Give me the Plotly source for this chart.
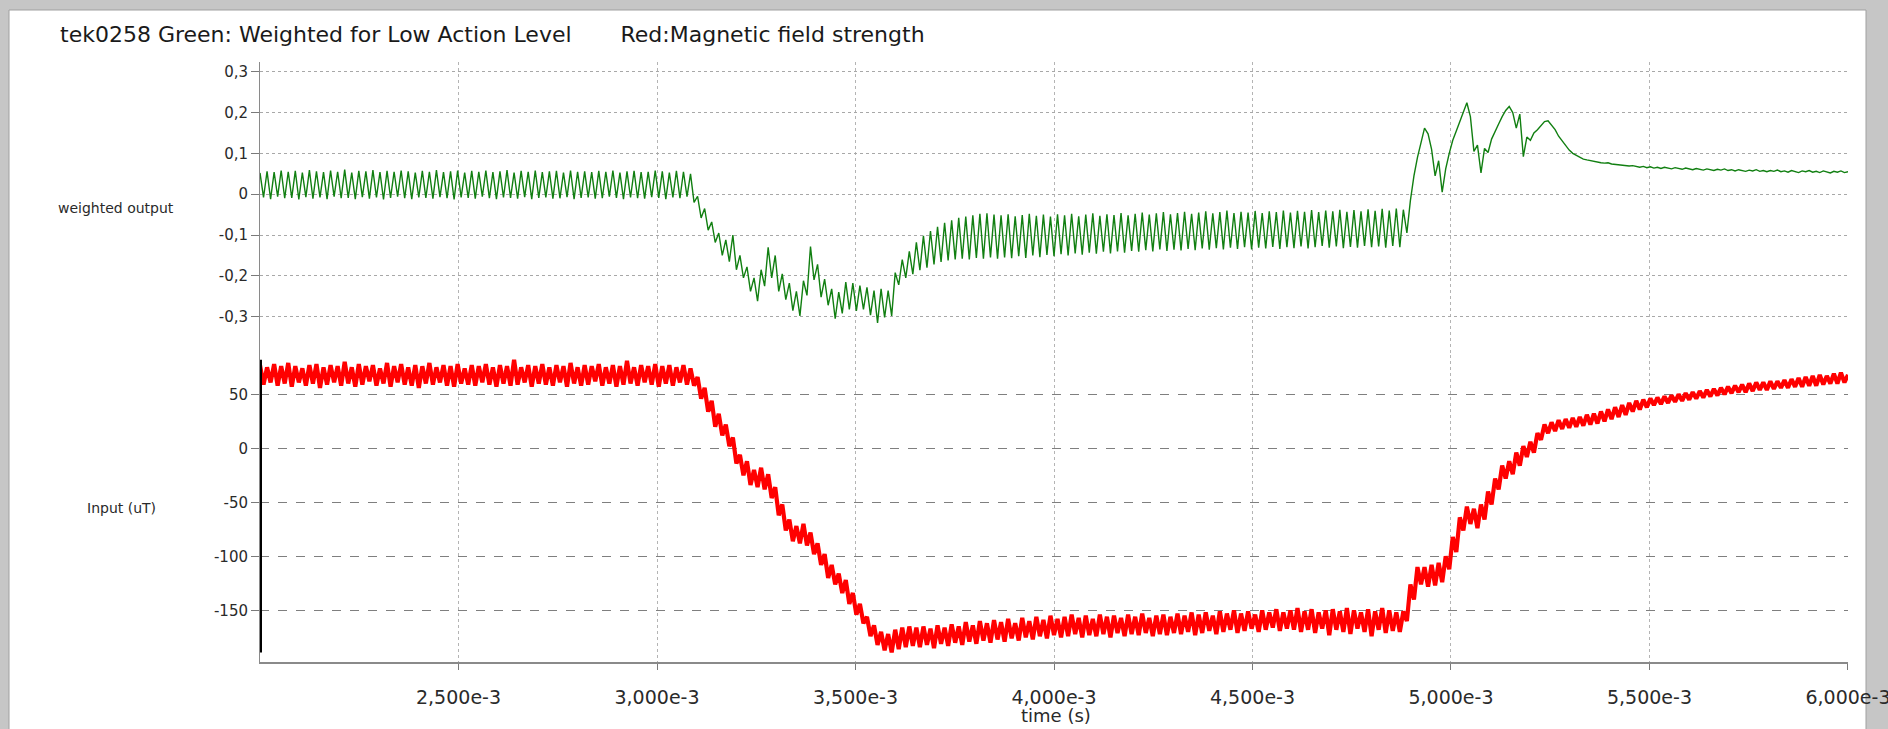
import numpy as np
import plotly.graph_objects as go

# ---------------- data ----------------
t_start_ms = 2.0
t_end_ms = 6.0

# green trace: weighted output (values x 1000)
green_flat = [52,-8,56,-12,54,-6,58,-10,55,-9,57,-13,53,-7,59,-11,56,-8,54,-12,
              58,-6,55,-10,60,-9,53,-12,57,-7,56,-11,59,-8,54,-13,57,-9,55,-6,
              58,-10,56,-12,53,-8,57,-9,55,-11,59,-7,54,-10,56,-13,58,-8,53,-9,
              57,-11,55,-6,58,-10,54,-12,56,-8,59,-9,53,-11,57,-7,55,-12,58,-9,
              54,-8,56,-11,57,-10,53,-7,58,-12,55,-9,56,-8,54,-11,57,-10,55,-6,
              58,-9,53,-12,56,-8,57,-10,54,-11,55,-7,58,-9,56,-12,53,-8,57,-10,
              55,-6]
green_dip = [50,-20,-5,-58,-35,-88,-68,-118,-95,-150,
             -112,-165,-100,-185,-150,-205,-178,-238,-205,-262,
             -185,-225,-130,-205,-150,-238,-195,-258,-218,-285,
             -238,-298,-212,-248,-128,-210,-172,-252,-208,-272,
             -232,-305,-240,-292,-215,-282,-218,-286,-224,-282,
             -228,-296,-236,-315,-232,-302,-236,-298,-192,-222,
             -160,-205,-140,-196,-118,-186,-102,-180,-90,-172,
             -80,-166,-70,-162,-64,-160,-58,-158,-55,-160,
             -52,-156,-48,-158,-47,-155]
green_mid = [-50,-158,-52,-155,-49,-157,-54,-152,-51,-156,-48,-150,-53,-154,-50,-149,-55,-152,-49,-147,
             -52,-150,-48,-145,-54,-148,-50,-143,-47,-146,-53,-141,-49,-145,-51,-140,-46,-143,-52,-139,
             -48,-141,-45,-137,-50,-140,-47,-135,-44,-139,-49,-136,-46,-138,-43,-134,-48,-137,-45,-133,
             -42,-136,-47,-132,-44,-135,-40,-131,-46,-134,-43,-130,-45,-135,-41,-131,-46,-133,-42,-129,
             -44,-134,-40,-130,-45,-132,-41,-128,-43,-133,-39,-130,-44,-127,-40,-131,-42,-128,-38,-132,
             -43,-129,-39,-131,-42,-127,-37,-130,-41,-128,-36,-131,-40,-127,-35,-130,-38]
green_bump = [-95,-15,45,90,125,162,148,110,45,82,
              5,62,100,132,155,178,200,224,190,105,
              120,52,112,102,135,155,172,190,205,215,
              200,162,196,92,140,132,150,158,168,178,
              180,170,158,142,130,118,108,100,95,90,
              86,84,82,80,79,77,76,77,74,73,
              72,71,70,69,70,68]
green_tail = [66,68,65,67,64,66,63,66,64,62,
              65,63,61,64,62,60,63,61,59,62,
              60,58,61,59,62,58,60,57,60,58,
              56,59,57,60,56,58,55,58,56,59,
              55,57,54,58,56,53,57,55,58,54,
              56,53,57,55,52,56,54,57,53,55]

# red trace: magnetic field input (uT)
red_flat = [77,59,75,61,78,58,76,60,79,57,76,61,74,58,77,60,78,56,75,59,
            77,61,76,58,80,60,75,57,78,59,76,62,77,58,74,60,79,57,76,61,
            78,59,75,58,77,56,76,60,79,59,75,61,77,58,76,57,78,60,74,59,
            77,58,76,61,78,59,75,57,77,60,76,58,82,59,75,61,77,57,76,60,
            78,59,75,58,77,61,76,57,79,60,75,58,77,59,76,62,78,58,75,60,
            77,57,76,59,81,60,75,58,77,61,76,59,78,57,76,60,77,58,75,61,
            77,59]
red_fall = [74,58,66,46,56,34,44,20,32,12,
            22,2,10,-14,-6,-25,-12,-34,-20,-36,
            -18,-38,-24,-46,-36,-62,-52,-76,-66,-86,
            -72,-88,-70,-90,-78,-98,-88,-108,-98,-120,
            -108,-126,-116,-134,-122,-144,-134,-154,-144,-162,
            -156,-174,-164,-182,-170,-187,-172,-189,-168,-186,
            -166,-184,-165,-183]
red_low = [-166,-184,-165,-182,-167,-185,-164,-181,-166,-183,-163,-180,-165,-182,-161,-179,-164,-181,-160,-178,
           -162,-180,-159,-177,-161,-179,-158,-176,-162,-178,-157,-175,-160,-177,-156,-174,-159,-176,-155,-173,
           -158,-175,-156,-174,-154,-172,-157,-175,-155,-173,-158,-174,-154,-172,-156,-175,-155,-171,-157,-174,
           -154,-172,-156,-173,-153,-171,-157,-174,-155,-172,-154,-173,-156,-171,-153,-172,-155,-170,-152,-173,
           -154,-171,-152,-169,-155,-172,-151,-170,-153,-168,-150,-171,-153,-169,-151,-167,-154,-170,-150,-168,
           -152,-166,-149,-169,-152,-167,-150,-168,-148,-170,-151,-168,-149,-171,-152,-167,-150,-173,-149,-168,
           -151,-170,-148,-172,-150,-167,-152,-170,-149,-174,-151,-168,-148,-171,-150,-169,-152,-170,-151]
red_rise = [-160,-126,-140,-110,-126,-110,-128,-108,-127,-106,
            -124,-100,-112,-82,-96,-64,-76,-54,-70,-56,
            -74,-52,-66,-40,-52,-28,-38,-16,-28,-12,
            -24,-4,-16,2,-8,6,-4,14,8,22,
            14,24,16,26,18,27,19,28,20,29,21]
red_tail = [31,22,32,23,34,25,36,27,38,29,
            40,31,42,34,44,36,45,38,46,40,
            47,41,48,42,49,43,50,44,51,45,
            52,46,53,47,54,48,55,49,56,50,
            57,51,58,52,59,52,60,53,61,54,
            61,54,62,55,62,56,63,56,64,57,
            65,57,66,58,67,58,68,59,67,60,
            69,60,70,61,68]

x_tick_vals = [2.5e-3, 3.0e-3, 3.5e-3, 4.0e-3, 4.5e-3, 5.0e-3, 5.5e-3, 6.0e-3]
x_tick_text = ["2,500e-3", "3,000e-3", "3,500e-3", "4,000e-3", "4,500e-3", "5,000e-3", "5,500e-3", "6,000e-3"]
top_tick_vals = [0.3, 0.2, 0.1, 0, -0.1, -0.2, -0.3]
top_tick_text = ["0,3", "0,2", "0,1", "0", "-0,1", "-0,2", "-0,3"]
bot_tick_vals = [50, 0, -50, -100, -150]
bot_tick_text = ["50", "0", "-50", "-100", "-150"]

title_text = ("tek0258 Green: Weighted for Low Action Level" + "\u00a0" * 7 +
              "Red:Magnetic field strength")

# ---------------- build ----------------
green_vals = np.array(green_flat + green_dip + green_mid + green_bump + green_tail) / 1000.0
red_vals = np.array(red_flat + red_fall + red_low + red_rise + red_tail, dtype=float)


def times(n):
    return (t_start_ms + np.arange(n) * (t_end_ms - t_start_ms) / (n - 1)) * 1e-3


t_green = times(len(green_vals))
t_red = times(len(red_vals))

W, H = 1888, 729
L, R, T, B = 260, 1848, 62, 662          # plot area in pixels
split = 355                               # boundary between the two panels


def px_x(px):
    return (px - L) / (R - L)


def px_y(py):
    return (B - py) / (B - T)


split_frac = px_y(split)
FONT = "DejaVu Sans"

fig = go.Figure()
fig.add_trace(go.Scatter(x=t_green, y=green_vals, mode="lines",
                         line=dict(color="#117f11", width=1.4),
                         xaxis="x", yaxis="y", showlegend=False))
fig.add_trace(go.Scatter(x=t_red, y=red_vals, mode="lines",
                         line=dict(color="#ff0000", width=4.2),
                         xaxis="x2", yaxis="y2", showlegend=False))
# black start marker spanning the input data extent
fig.add_trace(go.Scatter(x=[t_red[0], t_red[0]], y=[red_vals.min(), red_vals.max()],
                         mode="lines", line=dict(color="black", width=4),
                         xaxis="x2", yaxis="y2", showlegend=False, cliponaxis=False))

xr = [t_start_ms * 1e-3, t_end_ms * 1e-3 + 2e-8]
fig.update_layout(
    width=W, height=H,
    margin=dict(l=L, r=W - R, t=T, b=H - B, pad=0, autoexpand=False),
    paper_bgcolor="#c6c6c6",
    plot_bgcolor="rgba(0,0,0,0)",
    font=dict(family=FONT, color="#2a2a2a"),
    title=dict(text=title_text, x=60 / W, xanchor="left", xref="container",
               y=1 - 34 / H, yanchor="middle", yref="container",
               font=dict(family=FONT, size=22, color="#1a1a1a")),
    xaxis=dict(domain=[0, 1], anchor="y", range=xr, matches="x2", automargin=False,
               showticklabels=False, ticks="", showline=False, zeroline=False,
               tickvals=x_tick_vals, showgrid=True, gridcolor="#b4b4b4",
               griddash="dot", gridwidth=1),
    xaxis2=dict(domain=[0, 1], anchor="y2", range=xr, automargin=False,
                tickvals=x_tick_vals, ticktext=x_tick_text,
                ticks="outside", ticklen=6, tickcolor="#7a7a7a",
                ticklabelstandoff=11, ticklabeloverflow="allow",
                tickfont=dict(family=FONT, size=19, color="#2a2a2a"),
                showline=True, linecolor="#8a8a8a", linewidth=1.5,
                zeroline=False, showgrid=True, gridcolor="#b4b4b4",
                griddash="dot", gridwidth=1),
    yaxis=dict(domain=[split_frac, 1], anchor="x", automargin=False,
               range=[-(split - 194.2) / 408.3, (194.2 - T) / 408.3],
               tickvals=top_tick_vals, ticktext=top_tick_text,
               ticks="outside", ticklen=8, tickcolor="#7a7a7a",
               tickfont=dict(family=FONT, size=15, color="#2a2a2a"),
               showline=True, linecolor="#8a8a8a", linewidth=1,
               zeroline=False, showgrid=True, gridcolor="#a8a8a8",
               griddash="dot", gridwidth=1),
    yaxis2=dict(domain=[0, split_frac], anchor="x2", automargin=False,
                range=[50 - (B - 394.3) / 1.08, 50 + (394.3 - split) / 1.08],
                tickvals=bot_tick_vals, ticktext=bot_tick_text,
                ticks="outside", ticklen=8, tickcolor="#7a7a7a",
                tickfont=dict(family=FONT, size=15, color="#2a2a2a"),
                showline=True, linecolor="#8a8a8a", linewidth=1,
                zeroline=False, showgrid=True, gridcolor="#7f7f7f",
                griddash="dash", gridwidth=1.2),
)

# window frame: white panel on grey border
fig.add_shape(type="rect", xref="paper", yref="paper",
              x0=px_x(9), x1=px_x(1866), y0=px_y(740), y1=px_y(10),
              fillcolor="white", line=dict(color="#a0a0a0", width=1), layer="below")

# axis titles
fig.add_annotation(text="weighted output", xref="paper", yref="paper",
                   x=px_x(116), y=px_y(208), xanchor="center", yanchor="middle",
                   showarrow=False, font=dict(family=FONT, size=14, color="#2a2a2a"))
fig.add_annotation(text="Input (uT)", xref="paper", yref="paper",
                   x=px_x(121), y=px_y(508), xanchor="center", yanchor="middle",
                   showarrow=False, font=dict(family=FONT, size=14, color="#2a2a2a"))
fig.add_annotation(text="time (s)", xref="paper", yref="paper",
                   x=px_x(1056), y=px_y(715), xanchor="center", yanchor="middle",
                   showarrow=False, font=dict(family=FONT, size=18, color="#2a2a2a"))

fig.write_html("out.html")
